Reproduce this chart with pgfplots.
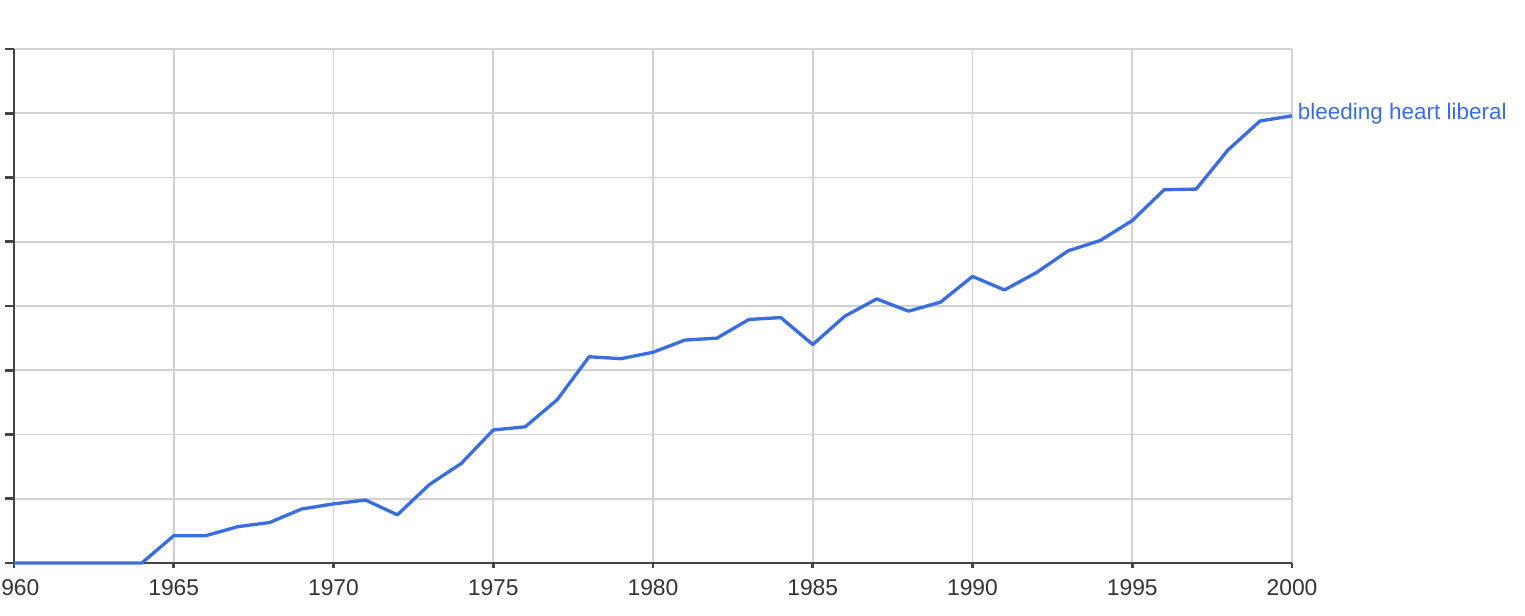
\documentclass[border=0pt]{standalone}
\usepackage{fontspec}
\setmainfont{Liberation Sans}
\usepackage{pgfplots}
\pgfplotsset{compat=1.18}

\definecolor{lineblue}{RGB}{59,110,220}
\definecolor{gridgray}{RGB}{210,210,210}
\definecolor{axisdark}{RGB}{68,68,68}
\definecolor{labelgray}{RGB}{51,51,51}

% n-gram style frequency curve, values in gridline units (0..8)
\pgfplotstableread{
year val
1960 0
1961 0
1962 0
1963 0
1964 0
1965 0.425
1966 0.425
1967 0.565
1968 0.63
1969 0.84
1970 0.92
1971 0.98
1972 0.75
1973 1.22
1974 1.55
1975 2.07
1976 2.12
1977 2.54
1978 3.21
1979 3.18
1980 3.28
1981 3.47
1982 3.50
1983 3.79
1984 3.82
1985 3.40
1986 3.84
1987 4.11
1988 3.92
1989 4.06
1990 4.46
1991 4.25
1992 4.52
1993 4.86
1994 5.02
1995 5.33
1996 5.81
1997 5.82
1998 6.43
1999 6.88
2000 6.96
}\freqdata

\begin{document}
\begin{tikzpicture}
\useasboundingbox (0,0) rectangle (15.25cm,6.15cm);
\clip (0,0) rectangle (15.25cm,6.15cm);
\begin{axis}[
  at={(0.14cm,0.52cm)}, anchor=south west,
  scale only axis,
  width=12.78cm, height=5.14cm,
  xmin=1960, xmax=2000, ymin=0, ymax=8,
  xtick distance=5, ytick distance=1,
  yticklabels={},
  axis x line=bottom, axis y line=left,
  axis line style={-, axisdark, line width=0.85pt},
  tick align=outside,
  xtick style={axisdark, line width=0.75pt, /pgfplots/major tick length=1.5pt},
  ytick style={axisdark, line width=0.75pt, /pgfplots/major tick length=2.6pt},
  grid=major,
  major grid style={gridgray, line width=0.45pt},
  x tick label style={/pgf/number format/1000 sep={}, labelgray, font=\fontsize{6.5}{7.5}\selectfont, yshift=3pt},
  /pgf/number format/assume math mode=true,
  clip=false,
]
\addplot[lineblue, line width=0.95pt, line join=round] table[x=year, y=val] {\freqdata}
  node[pos=1, anchor=west, inner sep=0pt, xshift=1.2pt, yshift=0.5pt, text=lineblue, font=\fontsize{6.4}{7.5}\selectfont] {bleeding heart liberal};
\end{axis}
\end{tikzpicture}
\end{document}
